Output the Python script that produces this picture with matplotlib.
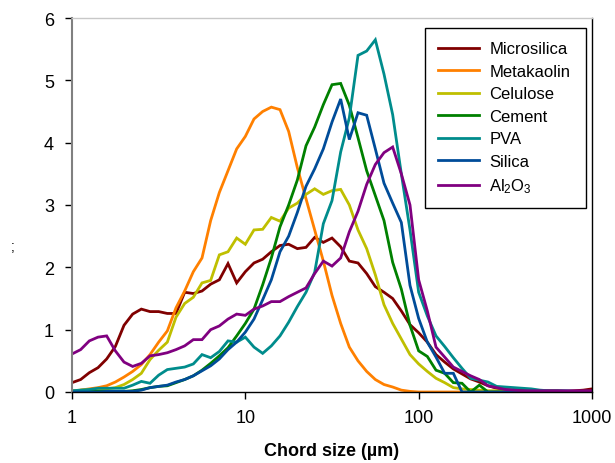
import numpy as np
import matplotlib
matplotlib.use("Agg")
import matplotlib.pyplot as plt

plt.rcParams['font.family'] = ['Liberation Sans', 'DejaVu Sans']
plt.rcParams['mathtext.default'] = 'regular'

# chord-size bins (log-spaced, 20 per decade, 1..1000 um)
chord_size = 10 ** (np.arange(61) * 0.05)

microsilica = [0.15, 0.20, 0.31, 0.39, 0.53, 0.73, 1.07, 1.25, 1.33, 1.29,
               1.29, 1.26, 1.26, 1.60, 1.58, 1.62, 1.73, 1.80, 2.06, 1.75,
               1.93, 2.07, 2.13, 2.25, 2.35, 2.37, 2.30, 2.32, 2.48, 2.40,
               2.47, 2.33, 2.10, 2.07, 1.90, 1.69, 1.60, 1.50, 1.30, 1.08,
               0.95, 0.80, 0.60, 0.48, 0.37, 0.29, 0.21, 0.16, 0.10, 0.06,
               0.04, 0.03, 0.03, 0.02, 0.02, 0.02, 0.02, 0.01, 0.02, 0.03, 0.05]
metakaolin = [0.00, 0.03, 0.05, 0.07, 0.10, 0.16, 0.24, 0.33, 0.44, 0.60,
              0.80, 0.98, 1.35, 1.62, 1.93, 2.15, 2.75, 3.20, 3.55, 3.90,
              4.10, 4.38, 4.50, 4.57, 4.53, 4.18, 3.60, 3.10, 2.60, 2.10,
              1.55, 1.10, 0.72, 0.50, 0.33, 0.20, 0.12, 0.08, 0.03, 0.01,
              0.00, 0.00, 0.00, 0.00, 0.00, 0.00, 0.00, 0.00, 0.00, 0.00,
              0.00, 0.00, 0.00, 0.00, 0.00, 0.00, 0.00, 0.00, 0.00, 0.00, 0.00]
celulose = [0.02, 0.03, 0.04, 0.04, 0.05, 0.07, 0.12, 0.20, 0.30, 0.52,
            0.67, 0.80, 1.20, 1.42, 1.52, 1.75, 1.79, 2.20, 2.25, 2.47,
            2.37, 2.60, 2.61, 2.80, 2.74, 2.95, 3.03, 3.17, 3.26, 3.17,
            3.23, 3.25, 3.00, 2.60, 2.30, 1.88, 1.40, 1.10, 0.85, 0.60,
            0.45, 0.33, 0.22, 0.15, 0.07, 0.05, 0.04, 0.03, 0.02, 0.02,
            0.01, 0.00, 0.00, 0.00, 0.00, 0.00, 0.00, 0.00, 0.00, 0.00, 0.00]
cement = [0.01, 0.01, 0.01, 0.01, 0.01, 0.01, 0.01, 0.02, 0.04, 0.07,
          0.09, 0.10, 0.15, 0.20, 0.26, 0.35, 0.46, 0.58, 0.71, 0.90,
          1.10, 1.33, 1.72, 2.15, 2.65, 3.00, 3.40, 3.95, 4.25, 4.61,
          4.93, 4.95, 4.60, 4.08, 3.55, 3.15, 2.75, 2.08, 1.65, 1.07,
          0.66, 0.57, 0.35, 0.30, 0.15, 0.14, 0.00, 0.11, 0.00, 0.00,
          0.00, 0.00, 0.00, 0.00, 0.00, 0.00, 0.00, 0.00, 0.00, 0.00, 0.00]
pva = [0.02, 0.03, 0.04, 0.06, 0.06, 0.06, 0.06, 0.11, 0.17, 0.14,
       0.27, 0.36, 0.38, 0.40, 0.45, 0.60, 0.55, 0.65, 0.82, 0.80,
       0.88, 0.72, 0.62, 0.74, 0.90, 1.12, 1.37, 1.60, 1.92, 2.70,
       3.07, 3.85, 4.40, 5.40, 5.47, 5.65, 5.10, 4.45, 3.50, 2.60,
       1.60, 1.22, 0.90, 0.73, 0.55, 0.38, 0.22, 0.19, 0.16, 0.09,
       0.08, 0.07, 0.06, 0.05, 0.03, 0.02, 0.02, 0.02, 0.01, 0.01, 0.01]
silica = [0.00, 0.00, 0.00, 0.00, 0.01, 0.01, 0.01, 0.01, 0.03, 0.07,
          0.09, 0.11, 0.16, 0.20, 0.26, 0.34, 0.42, 0.53, 0.68, 0.80,
          0.96, 1.17, 1.48, 1.80, 2.25, 2.50, 2.88, 3.30, 3.58, 3.90,
          4.33, 4.70, 4.05, 4.48, 4.44, 3.90, 3.35, 3.03, 2.72, 1.71,
          1.18, 0.80, 0.56, 0.30, 0.30, 0.00, 0.00, 0.00, 0.00, 0.00,
          0.00, 0.00, 0.00, 0.00, 0.00, 0.00, 0.00, 0.00, 0.00, 0.00, 0.00]
al2o3 = [0.61, 0.68, 0.82, 0.88, 0.90, 0.66, 0.48, 0.41, 0.46, 0.58,
         0.60, 0.63, 0.68, 0.74, 0.84, 0.84, 1.00, 1.06, 1.17, 1.25,
         1.23, 1.33, 1.38, 1.45, 1.45, 1.53, 1.60, 1.67, 1.90, 2.10,
         2.02, 2.15, 2.57, 2.90, 3.33, 3.65, 3.84, 3.93, 3.50, 3.00,
         1.80, 1.30, 0.72, 0.56, 0.40, 0.33, 0.26, 0.20, 0.10, 0.07,
         0.04, 0.03, 0.02, 0.02, 0.02, 0.02, 0.02, 0.02, 0.02, 0.02, 0.02]

series_labels = ['Microsilica', 'Metakaolin', 'Celulose', 'Cement', 'PVA',
                 'Silica', 'Al$_2$O$_3$']
series_data = [microsilica, metakaolin, celulose, cement, pva, silica, al2o3]
series_colors = ['#800000', '#FF8000', '#BFBF00', '#008000', '#008C8C',
                 '#004C99', '#800080']

x_ticks = [1, 10, 100, 1000]
x_ticklabels = ['1', '10', '100', '1000']
y_ticks = [0, 1, 2, 3, 4, 5, 6]

fig = plt.figure(figsize=(6.15, 4.64), dpi=100)
ax = fig.add_axes([72 / 615, 1 - 393 / 464, (592 - 72) / 615, (393 - 19) / 464])

for lab, ys, col in zip(series_labels, series_data, series_colors):
    ax.plot(chord_size, ys, color=col, lw=2.0, label=lab, solid_joinstyle='miter')

ax.set_xscale('log')
ax.set_xlim(1, 1000)
ax.set_ylim(0, 6)
ax.set_xticks(x_ticks)
ax.set_xticklabels(x_ticklabels)
ax.minorticks_off()
ax.set_yticks(y_ticks)
ax.tick_params(axis='both', labelsize=13, direction='out', length=5, width=1,
               color='black')
ax.tick_params(axis='x', pad=7)
ax.tick_params(axis='y', pad=8)

ax.spines['left'].set_color('#808080')
ax.spines['left'].set_linewidth(1.5)
ax.spines['bottom'].set_color('black')
ax.spines['bottom'].set_linewidth(1.0)
ax.spines['right'].set_color('black')
ax.spines['right'].set_linewidth(1.0)
ax.spines['top'].set_color('#C8C8C8')
ax.spines['top'].set_linewidth(1.0)

ax.set_xlabel('Chord size (µm)', fontsize=13, fontweight='bold', labelpad=12)
fig.text(13 / 615, 1 - 247 / 464, ';', fontsize=10, ha='center', va='center')

leg = ax.legend(loc='upper left',
                bbox_to_anchor=(425 / 615, 1 - 208 / 464, 161 / 615, 179 / 464),
                bbox_transform=fig.transFigure, borderaxespad=0, mode='expand',
                fontsize=12, frameon=True, fancybox=False, shadow=False,
                handlelength=2.46, handletextpad=0.6, labelspacing=0.45,
                borderpad=0.8)
leg.get_frame().set_edgecolor('black')
leg.get_frame().set_linewidth(1.0)
leg.get_frame().set_facecolor('white')
leg.get_frame().set_alpha(1)

fig.savefig('out.png', dpi=100)
